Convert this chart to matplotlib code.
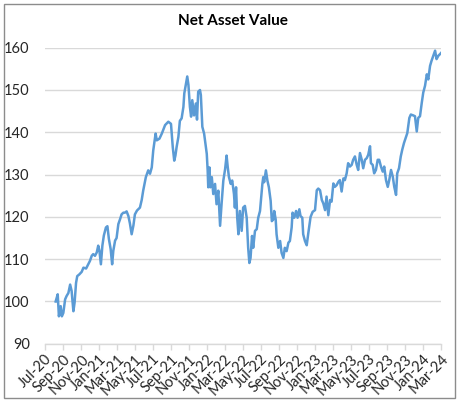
import matplotlib
matplotlib.use("Agg")
import matplotlib.pyplot as plt
import matplotlib.dates as mdates
from matplotlib.patches import Rectangle
import pandas as pd

title = "Net Asset Value"

dates = [
    "2020-08-06", "2020-08-13", "2020-08-17", "2020-08-23", "2020-08-27", "2020-09-01", "2020-09-07", "2020-09-12",
    "2020-09-18", "2020-09-24", "2020-09-29", "2020-10-05", "2020-10-09", "2020-10-14", "2020-10-18", "2020-10-25",
    "2020-11-02", "2020-11-08", "2020-11-17", "2020-11-24", "2020-11-30", "2020-12-06", "2020-12-11", "2020-12-17",
    "2020-12-23", "2020-12-28", "2021-01-01", "2021-01-06", "2021-01-11", "2021-01-16", "2021-01-23", "2021-01-28",
    "2021-02-02", "2021-02-08", "2021-02-13", "2021-02-17", "2021-02-23", "2021-02-28", "2021-03-06", "2021-03-12",
    "2021-03-17", "2021-03-23", "2021-03-28", "2021-04-03", "2021-04-09", "2021-04-14", "2021-04-20", "2021-04-26",
    "2021-05-01", "2021-05-08", "2021-05-18", "2021-05-24", "2021-05-29", "2021-06-07", "2021-06-15", "2021-06-21",
    "2021-06-27", "2021-07-02", "2021-07-10", "2021-07-14", "2021-07-23", "2021-07-31", "2021-08-11", "2021-08-22",
    "2021-08-31", "2021-09-06", "2021-09-11", "2021-09-15", "2021-09-19", "2021-09-25", "2021-09-30", "2021-10-06",
    "2021-10-12", "2021-10-15", "2021-10-21", "2021-10-25", "2021-10-29", "2021-11-03", "2021-11-07", "2021-11-11",
    "2021-11-17", "2021-11-23", "2021-11-27", "2021-12-01", "2021-12-07", "2021-12-10", "2021-12-15", "2021-12-21",
    "2021-12-24", "2021-12-30", "2022-01-02", "2022-01-04", "2022-01-08", "2022-01-11", "2022-01-16", "2022-01-21",
    "2022-01-27", "2022-02-01", "2022-02-07", "2022-02-13", "2022-02-18", "2022-02-24", "2022-03-02", "2022-03-07",
    "2022-03-11", "2022-03-15", "2022-03-21", "2022-03-26", "2022-04-01", "2022-04-04", "2022-04-08", "2022-04-12",
    "2022-04-16", "2022-04-21", "2022-04-27", "2022-05-02", "2022-05-08", "2022-05-14", "2022-05-19", "2022-05-23",
    "2022-05-27", "2022-06-01", "2022-06-05", "2022-06-11", "2022-06-17", "2022-06-22", "2022-06-28", "2022-07-01",
    "2022-07-06", "2022-07-09", "2022-07-12", "2022-07-18", "2022-07-23", "2022-07-28", "2022-08-03", "2022-08-07",
    "2022-08-12", "2022-08-15", "2022-08-20", "2022-08-23", "2022-08-29", "2022-09-04", "2022-09-09", "2022-09-15",
    "2022-09-20", "2022-09-26", "2022-10-02", "2022-10-07", "2022-10-13", "2022-10-16", "2022-10-22", "2022-10-28",
    "2022-11-02", "2022-11-08", "2022-11-12", "2022-11-18", "2022-11-21", "2022-11-27", "2022-12-03", "2022-12-08",
    "2022-12-16", "2022-12-23", "2022-12-31", "2023-01-06", "2023-01-11", "2023-01-17", "2023-01-23", "2023-01-28",
    "2023-02-03", "2023-02-08", "2023-02-14", "2023-02-20", "2023-02-25", "2023-03-03", "2023-03-08", "2023-03-14",
    "2023-03-20", "2023-03-25", "2023-03-31", "2023-04-06", "2023-04-11", "2023-04-17", "2023-04-22", "2023-04-28",
    "2023-05-04", "2023-05-09", "2023-05-15", "2023-05-21", "2023-05-26", "2023-06-01", "2023-06-07", "2023-06-12",
    "2023-06-18", "2023-06-24", "2023-06-29", "2023-07-05", "2023-07-08", "2023-07-14", "2023-07-19", "2023-07-25",
    "2023-07-31", "2023-08-05", "2023-08-11", "2023-08-17", "2023-08-22", "2023-08-28", "2023-09-03", "2023-09-08",
    "2023-09-14", "2023-09-20", "2023-09-25", "2023-10-01", "2023-10-05", "2023-10-11", "2023-10-17", "2023-10-22",
    "2023-10-28", "2023-11-04", "2023-11-08", "2023-11-15", "2023-11-20", "2023-11-28", "2023-12-04", "2023-12-10",
    "2023-12-15", "2023-12-21", "2023-12-27", "2024-01-01", "2024-01-07", "2024-01-13", "2024-01-18", "2024-01-24",
    "2024-01-29", "2024-02-04", "2024-02-10", "2024-02-15", "2024-02-21", "2024-02-27", "2024-03-03",
]

nav = [
    100.0, 101.7, 96.5, 98.9, 96.5, 97.3, 100.5, 101.3,
    102.0, 104.0, 102.5, 97.7, 99.7, 104.4, 106.0, 106.4,
    107.0, 108.0, 107.8, 108.8, 109.6, 110.8, 111.2, 110.8,
    111.6, 113.2, 112.0, 108.8, 113.2, 115.6, 117.5, 117.8,
    114.8, 112.4, 108.8, 112.0, 114.4, 115.0, 118.3, 119.5,
    120.6, 121.0, 121.0, 121.3, 120.2, 118.5, 115.9, 118.0,
    120.6, 121.5, 122.2, 124.0, 126.2, 129.4, 131.0, 130.2,
    131.7, 135.7, 139.7, 138.1, 138.5, 139.7, 141.7, 142.5,
    142.0, 136.5, 133.3, 134.5, 136.5, 138.9, 142.7, 143.3,
    146.0, 149.2, 151.6, 153.2, 151.2, 146.0, 143.7, 147.6,
    144.0, 146.8, 143.0, 149.6, 150.0, 148.8, 141.3, 139.7,
    138.1, 134.9, 131.0, 127.0, 131.7, 127.0, 129.4, 125.4,
    127.8, 123.0, 126.2, 117.9, 123.0, 128.6, 131.3, 134.5,
    131.7, 129.4, 127.8, 128.6, 125.4, 122.2, 127.0, 119.8,
    115.9, 121.4, 116.7, 122.2, 122.6, 119.8, 112.7, 109.1,
    110.3, 115.5, 112.7, 116.7, 117.1, 119.8, 121.4, 123.8,
    127.8, 129.4, 128.2, 131.0, 128.6, 127.0, 123.8, 119.0,
    119.4, 121.4, 119.4, 115.9, 112.7, 114.3, 111.5, 110.3,
    112.7, 111.9, 113.9, 114.3, 117.5, 121.0, 119.8, 121.4,
    119.8, 121.8, 120.2, 119.8, 115.9, 114.3, 113.3, 116.0,
    120.0, 121.2, 121.6, 126.3, 126.7, 126.3, 124.0, 123.2,
    121.6, 124.8, 120.4, 124.0, 123.6, 127.9, 127.1, 127.5,
    128.3, 128.7, 126.0, 129.1, 128.7, 130.3, 132.7, 131.9,
    132.3, 133.5, 134.3, 132.3, 131.1, 135.1, 133.5, 131.5,
    133.5, 133.9, 134.7, 136.7, 132.7, 132.3, 130.3, 131.1,
    133.5, 133.5, 131.9, 130.7, 131.9, 128.7, 127.1, 128.7,
    131.1, 129.5, 127.1, 125.2, 130.3, 131.5, 134.3, 135.9,
    137.5, 139.0, 139.8, 143.4, 144.2, 144.0, 143.8, 140.2,
    143.4, 143.8, 147.0, 149.4, 151.0, 153.7, 152.5, 155.7,
    156.9, 158.1, 159.3, 157.3, 158.1, 158.5, 158.9,
]

y_ticks = [90, 100, 110, 120, 130, 140, 150, 160]
x_start = "2020-07-01"
x_end = "2024-03-01"

plt.rcParams['font.family'] = ['Lato', 'DejaVu Sans']

W, H = 459, 403
fig = plt.figure(figsize=(W / 100, H / 100), dpi=100)
fig.patch.set_facecolor('white')

left, right, top, bottom = 45, 441, 47.7, 343.8
ax = fig.add_axes([left / W, 1 - bottom / H, (right - left) / W, (bottom - top) / H])

x = pd.to_datetime(dates)
ax.plot(x, nav, color='#5B9BD5', lw=1.8, solid_joinstyle='round', zorder=3)

ax.set_xlim(pd.Timestamp(x_start), pd.Timestamp(x_end))
ax.set_ylim(min(y_ticks), max(y_ticks))
ax.set_yticks(y_ticks)
ax.set_yticklabels([str(t) for t in y_ticks])
ax.yaxis.grid(True, color='#D9D9D9', lw=1.0)
ax.set_axisbelow(True)

ax.xaxis.set_major_locator(mdates.MonthLocator(bymonth=[1, 3, 5, 7, 9, 11]))
ax.xaxis.set_major_formatter(mdates.DateFormatter('%b-%y'))

for s in ['left', 'right', 'top']:
    ax.spines[s].set_visible(False)
ax.spines['bottom'].set_color('#D9D9D9')
ax.spines['bottom'].set_linewidth(1.0)

ax.tick_params(axis='y', length=0, pad=11, labelsize=10.5, labelcolor='#262626')
ax.tick_params(axis='x', length=4, width=1.0, color='#D9D9D9', pad=2, labelsize=10.5,
               labelcolor='#262626')
for lab in ax.get_xticklabels():
    lab.set_rotation(45)
    lab.set_ha('right')
    lab.set_va('top')
    lab.set_rotation_mode('anchor')

fig.text(233 / W, 1 - 21 / H, title, ha='center', va='center', fontsize=11,
         fontweight='bold', color='#000000')

fig.patches.append(Rectangle((4 / W, 1 - 398 / H), (455 - 4) / W, (398 - 4) / H,
                             transform=fig.transFigure, fill=False,
                             edgecolor='#8C8C8C', lw=1.0))

fig.savefig('out.png', dpi=100, facecolor='white')
